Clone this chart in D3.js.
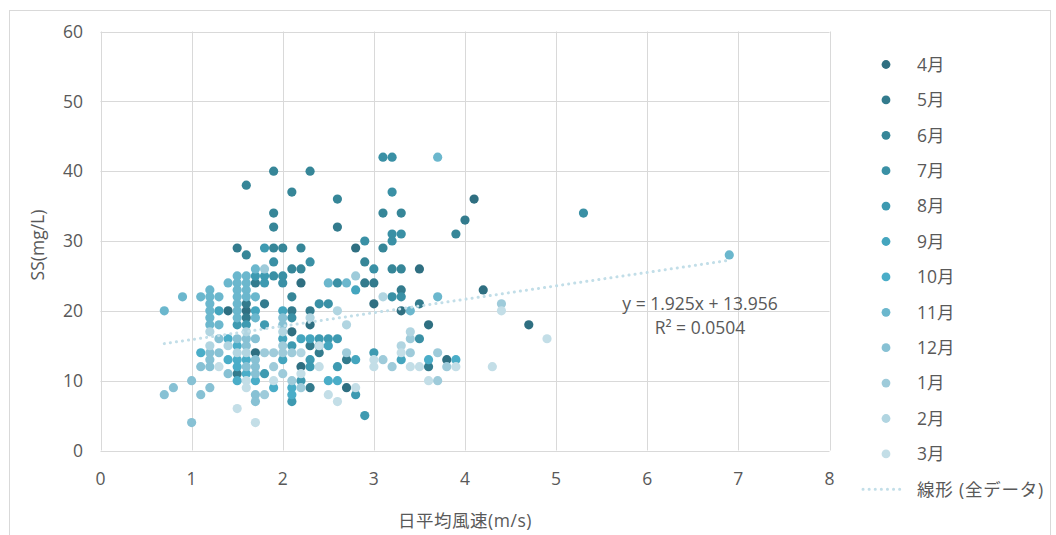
<!DOCTYPE html>
<html>
<head>
<meta charset="utf-8">
<script src="https://cdn.jsdelivr.net/npm/d3@7"></script>
<style>
  html, body { margin: 0; padding: 0; background: #ffffff; }
  svg { display: block; }
  text { font-family: "Open Sans", "Noto Sans CJK JP", sans-serif; fill: #595959; }
</style>
</head>
<body>
<svg id="chart" width="1056" height="535"></svg>
<script>
// ---- data (wind speed m/s, SS mg/L) ----
const monthNames = ["4月","5月","6月","7月","8月","9月","10月","11月","12月","1月","2月","3月"];
const m4  = [[2.8,29],[4.1,36],[4.2,23],[3.5,26],[3.0,21],[3.6,18],[4.7,18],[3.8,13],[2.7,9],[2.2,12],[2.1,17],[2.3,18],[1.7,14],[1.6,20],[1.4,20],[3.3,20],[2.2,24]];
const m5  = [[2.6,32],[3.5,21],[3.6,12],[2.7,13],[2.3,9],[2.4,14],[2.3,15],[2.1,20],[2.3,20],[3.3,23],[1.5,11],[1.6,19],[1.6,21],[1.8,21],[1.7,24],[1.5,29],[4.0,33],[3.0,24],[2.9,24]];
const m6  = [[1.9,40],[2.3,40],[1.6,38],[2.1,37],[2.6,36],[1.9,34],[1.9,32],[3.1,34],[3.3,34],[3.9,31],[3.1,29],[2.9,27],[1.9,29],[2.0,29],[2.2,29],[1.6,28],[2.1,26],[2.2,26],[3.2,26],[3.3,26],[2.1,22]];
const m7  = [[3.1,42],[3.2,42],[3.2,37],[5.3,34],[3.2,31],[3.3,31],[3.2,30],[2.9,30],[3.0,26],[1.9,27],[2.3,27],[1.9,25],[2.0,25],[2.0,24],[2.6,24],[3.2,22],[3.3,22],[2.4,21],[2.5,21],[3.5,16],[2.1,19]];
const m8  = [[1.8,24],[1.8,25],[1.7,25],[1.8,29],[2.4,16],[2.5,16],[2.6,16],[2.1,15],[3.0,14],[2.3,13],[2.3,12],[2.6,12],[1.8,11],[2.2,10],[2.8,8],[2.1,7],[2.9,5],[1.5,18],[1.6,18],[1.8,18],[2.4,15]];
const m9  = [[2.8,23],[2.0,20],[1.7,20],[1.3,20],[2.0,16],[2.2,16],[2.3,16],[2.5,15],[2.0,13],[2.8,13],[3.3,13]];
const m10 = [[3.6,13],[3.9,13],[1.4,16],[1.5,15],[1.1,14],[1.4,13],[1.5,13],[1.6,13],[1.5,12],[1.6,11],[1.5,10],[1.7,10],[2.5,10],[2.6,10],[1.9,9],[2.1,9],[2.1,8]];
const m11 = [[3.7,42],[6.9,28],[1.7,26],[2.5,24],[2.7,24],[1.5,25],[1.6,25],[1.4,24],[1.5,24],[1.6,24],[1.2,23],[1.5,23],[1.6,23],[0.9,22],[1.1,22],[1.2,22],[1.3,22],[1.5,22],[1.6,22],[1.7,22],[3.7,22],[1.2,21],[1.5,21],[0.7,20],[1.2,20],[1.5,20],[3.4,20],[1.2,19],[1.5,19],[1.7,19],[1.2,18],[1.3,18]];
const m12 = [[2.0,19],[2.0,18],[1.3,16],[1.5,16],[1.6,16],[1.7,16],[1.6,15],[1.2,14],[1.3,14],[1.2,13],[1.7,13],[1.1,12],[1.2,12],[1.6,12],[1.7,12],[1.4,11],[1.7,11],[1.0,10],[0.8,9],[1.2,9],[0.7,8],[1.1,8],[1.7,8],[1.7,7],[1.0,4]];
const m1  = [[3.4,16],[3.4,14],[3.7,14],[3.1,13],[3.2,12],[3.8,12],[3.7,10],[2.7,14],[2.0,15],[1.8,14],[1.9,14],[2.0,14],[2.1,14],[1.9,12],[2.0,11],[2.1,10],[1.8,8],[2.2,9],[4.4,21],[2.8,25],[1.8,26]];
const m2  = [[3.1,22],[2.6,20],[2.3,19],[2.7,18],[1.2,17],[1.6,17],[2.0,17],[3.4,17],[1.2,15],[1.4,15],[3.3,15],[1.5,14],[1.6,14],[2.2,14]];
const m3  = [[3.3,14],[3.0,13],[1.3,12],[2.4,12],[3.0,12],[3.4,12],[3.5,12],[3.9,12],[4.3,12],[2.2,11],[1.9,10],[1.6,10],[3.6,10],[1.6,9],[2.8,9],[2.5,8],[2.6,7],[1.5,6],[1.7,4],[4.4,20],[4.9,16],[2.4,15]];
const monthData = [m4,m5,m6,m7,m8,m9,m10,m11,m12,m1,m2,m3];

const xTicks = [0,1,2,3,4,5,6,7,8];
const yTicks = [0,10,20,30,40,50,60];
const trendSlope = 1.925;
const trendIntercept = 13.956;
const trendR2 = "0.0504";
const trendLabel = "線形 (全データ)";
const xTitle = "日平均風速(m/s)";
const yTitle = "SS(mg/L)";

// ---- styles ----
const colors = ["#2f6f81","#337b8d","#368698","#3a90a5","#3e9ab1","#44a5be","#4aadc8","#6bb7cd","#87c1d4","#9ecbda","#b1d5e1","#c3dee7"];
const trendColor = "#c2dee8";
const gridColor = "#d9d9d9";
const fs = 17.5;

const svg = d3.select("#chart");
const x = d3.scaleLinear().domain([0, 8]).range([100.5, 829.5]);
const y = d3.scaleLinear().domain([0, 60]).range([450.5, 31.5]);

// chart border
svg.append("rect").attr("x", 9.5).attr("y", 10.5).attr("width", 1041).attr("height", 540)
  .attr("fill", "none").attr("stroke", gridColor);

// gridlines
svg.append("g").selectAll("line").data(xTicks).join("line")
  .attr("x1", d => Math.round(x(d)) + 0.5).attr("x2", d => Math.round(x(d)) + 0.5)
  .attr("y1", y(60)).attr("y2", y(0))
  .attr("stroke", gridColor).attr("stroke-width", 1);
svg.append("g").selectAll("line").data(yTicks).join("line")
  .attr("y1", d => Math.round(y(d)) + 0.5).attr("y2", d => Math.round(y(d)) + 0.5)
  .attr("x1", x(0)).attr("x2", x(8))
  .attr("stroke", gridColor).attr("stroke-width", 1);

// tick labels
svg.append("g").selectAll("text").data(yTicks).join("text")
  .attr("x", 83).attr("y", d => y(d)).attr("dy", "0.36em")
  .attr("text-anchor", "end").attr("font-size", fs).text(d => d);
svg.append("g").selectAll("text").data(xTicks).join("text")
  .attr("x", d => x(d)).attr("y", 479).attr("dy", "0.36em")
  .attr("text-anchor", "middle").attr("font-size", fs).text(d => d);

// axis titles
svg.append("text").attr("x", (x(0) + x(8)) / 2).attr("y", 521).attr("dy", "0.36em")
  .attr("text-anchor", "middle").attr("font-size", fs).attr("letter-spacing", 0.5).text(xTitle);
svg.append("text").attr("transform", `translate(38,${(y(0) + y(60)) / 2 + 4}) rotate(-90)`)
  .attr("dy", "0.36em").attr("text-anchor", "middle").attr("font-size", fs).text(yTitle);

// points
monthData.forEach((arr, i) => {
  svg.append("g").selectAll("circle").data(arr).join("circle")
    .attr("cx", d => x(d[0])).attr("cy", d => y(d[1]))
    .attr("r", 4.6).attr("fill", colors[i]);
});

// trendline over all data
const allPts = monthData.flat();
const xMin = d3.min(allPts, d => d[0]);
const xMax = d3.max(allPts, d => d[0]);
svg.append("line")
  .attr("x1", x(xMin)).attr("y1", y(trendSlope * xMin + trendIntercept))
  .attr("x2", x(xMax)).attr("y2", y(trendSlope * xMax + trendIntercept))
  .attr("stroke", trendColor).attr("stroke-width", 3)
  .attr("stroke-linecap", "round").attr("stroke-dasharray", "0.1 6");

svg.append("text").attr("x", 700).attr("y", 304).attr("dy", "0.36em")
  .attr("text-anchor", "middle").attr("font-size", fs)
  .text(`y = ${trendSlope}x + ${trendIntercept}`);
svg.append("text").attr("x", 700).attr("y", 328).attr("dy", "0.36em")
  .attr("text-anchor", "middle").attr("font-size", fs)
  .text(`R² = ${trendR2}`);

// legend
const lg = svg.append("g");
monthNames.forEach((name, i) => {
  const ly = 64.5 + i * 35.4;
  lg.append("circle").attr("cx", 886).attr("cy", ly).attr("r", 4.4).attr("fill", colors[i]);
  lg.append("text").attr("x", 917).attr("y", ly).attr("dy", "0.36em").attr("font-size", fs).text(name);
});
const tly = 64.5 + 12 * 35.4;
lg.append("line").attr("x1", 863).attr("x2", 905).attr("y1", tly).attr("y2", tly)
  .attr("stroke", trendColor).attr("stroke-width", 3)
  .attr("stroke-linecap", "round").attr("stroke-dasharray", "0.1 6");
lg.append("text").attr("x", 917).attr("y", tly).attr("dy", "0.36em").attr("font-size", fs)
  .attr("letter-spacing", 0.8).text(trendLabel);
</script>
</body>
</html>
